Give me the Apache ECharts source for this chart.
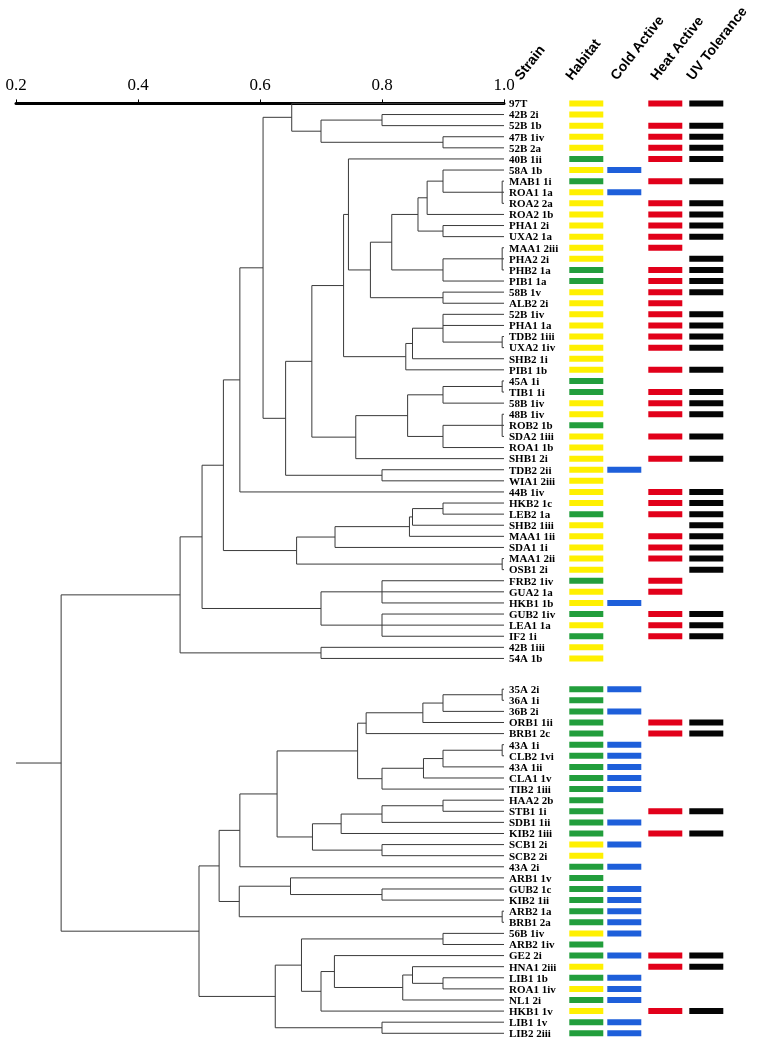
<!DOCTYPE html>
<html><head><meta charset="utf-8">
<script src="https://cdn.jsdelivr.net/npm/echarts@6/dist/echarts.min.js"></script>
<style>html,body{margin:0;padding:0;background:#fff}#c{width:763px;height:1046px}</style>
</head><body><div id="c"></div>
<script>
// ---------- DATA ----------
const strains = [
 '97T','42B 2i','52B 1b','47B 1iv','52B 2a','40B 1ii','58A 1b','MAB1 1i','ROA1 1a','ROA2 2a',
 'ROA2 1b','PHA1 2i','UXA2 1a','MAA1 2iii','PHA2 2i','PHB2 1a','PIB1 1a','58B 1v','ALB2 2i','52B 1iv',
 'PHA1 1a','TDB2 1iii','UXA2 1iv','SHB2 1i','PIB1 1b','45A 1i','TIB1 1i','58B 1iv','48B 1iv','ROB2 1b',
 'SDA2 1iii','ROA1 1b','SHB1 2i','TDB2 2ii','WIA1 2iii','44B 1iv','HKB2 1c','LEB2 1a','SHB2 1iii','MAA1 1ii',
 'SDA1 1i','MAA1 2ii','OSB1 2i','FRB2 1iv','GUA2 1a','HKB1 1b','GUB2 1iv','LEA1 1a','IF2 1i','42B 1iii',
 '54A 1b',
 '35A 2i','36A 1i','36B 2i','ORB1 1ii','BRB1 2c','43A 1i','CLB2 1vi','43A 1ii','CLA1 1v',
 'TIB2 1iii','HAA2 2b','STB1 1i','SDB1 1ii','KIB2 1iii','SCB1 2i','SCB2 2i','43A 2i','ARB1 1v','GUB2 1c',
 'KIB2 1ii','ARB2 1a','BRB1 2a','56B 1iv','ARB2 1iv','GE2 2i','HNA1 2iii','LIB1 1b','ROA1 1iv','NL1 2i',
 'HKB1 1v','LIB1 1v','LIB2 2iii'
];
const habitat = [
 'Y','Y','Y','Y','Y','G','Y','G','Y','Y',
 'Y','Y','Y','Y','Y','G','G','Y','Y','Y',
 'Y','Y','Y','Y','Y','G','G','Y','Y','G',
 'Y','Y','Y','Y','Y','Y','Y','G','Y','Y',
 'Y','Y','Y','G','Y','Y','G','Y','G','Y',
 'Y','G','G','G','G','G','G','G','G','G',
 'G','G','G','G','G','Y','Y','G','G','G',
 'G','G','G','Y','G','G','Y','G','Y','G',
 'Y','G','G'
];
const coldActive = [
 0,0,0,0,0,0,1,0,1,0,
 0,0,0,0,0,0,0,0,0,0,
 0,0,0,0,0,0,0,0,0,0,
 0,0,0,1,0,0,0,0,0,0,
 0,0,0,0,0,1,0,0,0,0,
 0,1,0,1,0,0,1,1,1,1,
 1,0,0,1,0,1,0,1,0,1,
 1,1,1,1,0,1,0,1,1,1,
 0,1,1
];
const heatActive = [
 1,0,1,1,1,1,0,1,0,1,
 1,1,1,1,0,1,1,1,1,1,
 1,1,1,0,1,0,1,1,1,0,
 1,0,1,0,0,1,1,1,0,1,
 1,1,0,1,1,0,1,1,1,0,
 0,0,0,0,1,1,0,0,0,0,
 0,0,1,0,1,0,0,0,0,0,
 0,0,0,0,0,1,1,0,0,0,
 1,0,0
];
const uvTolerance = [
 1,0,1,1,1,1,0,1,0,1,
 1,1,1,0,1,1,1,1,0,1,
 1,1,1,0,1,0,1,1,1,0,
 1,0,1,0,0,1,1,1,1,1,
 1,1,1,0,0,0,1,1,1,0,
 0,0,0,0,1,1,0,0,0,0,
 0,0,1,0,1,0,0,0,0,0,
 0,0,0,0,0,1,1,0,0,0,
 1,0,0
];
const headers = ['Strain','Habitat','Cold Active','Heat Active','UV Tolerance'];
const axisTicks = [0.2, 0.4, 0.6, 0.8, 1.0];

// cluster tree: node(similarity, ...children); numbers are strain rows (1-based)
const node = (h, ...k) => ({h, k});
const tA  = node(0.652, 1, node(0.70, node(0.80, 2, 3), node(0.90, 4, 5)));
const tS  = node(0.745, 6, node(0.781,
              node(0.816,
                node(0.859, node(0.874, node(0.90, 7, node(0.997, 8, 9, 10)), 11), node(0.90, 12, 13)),
                node(0.90, node(0.997, 14, 15, 16), 17)),
              node(0.90, 18, 19)));
const tY  = node(0.839, node(0.850, node(0.90, 20, 21, node(0.997, 22, 23)), 24), 25);
const tAA = node(0.757, node(0.842, node(0.90, node(0.997, 26, 27), 28), node(0.90, node(0.997, 29, 30, 31), 32)), 33);
const tF  = node(0.642, node(0.685, node(0.737, tS, tY), tAA), node(0.80, 34, 35));
const tEE = node(0.567, node(0.605, tA, tF), 36);
const tGG = node(0.660, node(0.723, node(0.845, node(0.85, node(0.90, 37, 38), 39), 40), 41), node(0.997, 42, 43));
const tII = node(0.70, node(0.80, 44, 45, 46), node(0.80, 47, 48, 49));
const tUpper = node(0.469, node(0.505, node(0.540, tEE, tGG), tII), node(0.70, 50, 51));
const tL7  = node(0.760,
              node(0.774, node(0.867, node(0.90, node(0.997, 52, 53), 54), 55), 56),
              node(0.80, node(0.868, node(0.90, node(0.997, 57, 58), 59), 60), 61));
const tL10 = node(0.686, node(0.733, node(0.80, node(0.90, 62, 63), 64), 65), node(0.80, 66, 67));
const tL13 = node(0.533, node(0.567, node(0.628, tL7, tL10), 68),
              node(0.566, node(0.650, 69, node(0.80, 70, 71)), node(0.997, 72, 73)));
const tL17 = node(0.625,
              node(0.668, node(0.90, 74, 75),
                node(0.70, node(0.722, 76, node(0.834, node(0.85, 77, node(0.90, 78, 79)), 80)), 81)),
              node(0.80, 82, 83));
const tree = node(0.274, tUpper, node(0.50, tL13, tL17));

// ---------- LAYOUT ----------
const upperCount = 51, groupGap = 1.77;
const rowPos = strains.map((s, i) => i < upperCount ? i : i + groupGap);
const COL = {label: 4, habitat: 64.3, cold: 102.3, heat: 143.3, uv: 184.3, barW: 34, barH: 6};
const headerX = [18.5, 69.5, 114.5, 154.5, 190.5];
const headerY = -1.85;
const COLORS = {Y: '#FFF000', G: '#229E3C', cold: '#1E5FDA', heat: '#E2001A', uv: '#050505', line: '#3a3a3a'};

// flatten tree
const nodes = [];
function walk(n) {
  if (typeof n === 'number') return {h: 1.0, y: rowPos[n - 1]};
  const kids = n.k.map(walk);
  const y = (kids[0].y + kids[kids.length - 1].y) / 2;
  nodes.push({h: n.h, y, kids, root: n === tree});
  return {h: n.h, y};
}
walk(tree);

const chart = echarts.init(document.getElementById('c'));
const gridTop = 99, unitPx = 11.1, yMin = -0.4, yMax = 84.5;
const gridBottom = 1046 - gridTop - unitPx * (yMax - yMin);
const lineStyle = {stroke: COLORS.line, lineWidth: 1};

chart.setOption({
  animation: false,
  backgroundColor: '#fff',
  grid: [
    {left: 16, right: 259, top: gridTop, bottom: gridBottom},
    {left: 505, right: 0, top: gridTop, bottom: gridBottom}
  ],
  xAxis: [
    {gridIndex: 0, type: 'value', position: 'top', min: 0.2, max: 1.0, interval: 0.2,
     axisLine: {show: true, lineStyle: {color: '#000', width: 3}},
     axisTick: {show: true, length: 4, lineStyle: {color: '#000', width: 1}},
     axisLabel: {formatter: v => axisTicks.includes(+v.toFixed(1)) ? v.toFixed(1) : '', fontFamily: 'Liberation Serif', fontSize: 17, color: '#000', margin: 5},
     splitLine: {show: false}},
    {gridIndex: 1, type: 'value', min: 0, max: 258, show: false}
  ],
  yAxis: [
    {gridIndex: 0, type: 'value', min: yMin, max: yMax, inverse: true, show: false},
    {gridIndex: 1, type: 'value', min: yMin, max: yMax, inverse: true, show: false}
  ],
  series: [
    {
      type: 'custom', xAxisIndex: 0, yAxisIndex: 0, clip: false,
      data: nodes.map(n => [n.h, n.y]),
      encode: {x: 0, y: 1},
      renderItem: (params, api) => {
        const n = nodes[params.dataIndex];
        const ch = [];
        const a = api.coord([n.h, n.kids[0].y]);
        const b = api.coord([n.h, n.kids[n.kids.length - 1].y]);
        ch.push({type: 'line', shape: {x1: a[0], y1: a[1], x2: b[0], y2: b[1]}, style: lineStyle});
        n.kids.forEach(k => {
          const p = api.coord([n.h, k.y]), q = api.coord([k.h, k.y]);
          ch.push({type: 'line', shape: {x1: p[0], y1: p[1], x2: q[0], y2: q[1]}, style: lineStyle});
        });
        if (n.root) {
          const p = api.coord([0.2, n.y]), q = api.coord([n.h, n.y]);
          ch.push({type: 'line', shape: {x1: p[0], y1: p[1], x2: q[0], y2: q[1]}, style: lineStyle});
        }
        return {type: 'group', children: ch};
      }
    },
    {
      type: 'custom', xAxisIndex: 1, yAxisIndex: 1, clip: false,
      data: strains.map((s, i) => [0, rowPos[i]]),
      encode: {x: 0, y: 1},
      renderItem: (params, api) => {
        const i = params.dataIndex;
        const y = rowPos[i];
        const ch = [];
        const lp = api.coord([COL.label, y]);
        ch.push({type: 'text', x: lp[0], y: lp[1] + 1,
          style: {text: strains[i], fill: '#000', font: 'bold 11px "Liberation Serif"', textAlign: 'left', textVerticalAlign: 'middle'}});
        const bar = (col, color) => {
          const p = api.coord([col, y]);
          const q = api.coord([col + COL.barW, y]);
          ch.push({type: 'rect', shape: {x: p[0], y: p[1] - COL.barH / 2, width: q[0] - p[0], height: COL.barH}, style: {fill: color}});
        };
        bar(COL.habitat, COLORS[habitat[i]]);
        if (coldActive[i]) bar(COL.cold, COLORS.cold);
        if (heatActive[i]) bar(COL.heat, COLORS.heat);
        if (uvTolerance[i]) bar(COL.uv, COLORS.uv);
        return {type: 'group', children: ch};
      }
    },
    {
      type: 'custom', xAxisIndex: 1, yAxisIndex: 1, clip: false,
      data: headers.map((h, i) => [headerX[i], headerY]),
      encode: {x: 0, y: 1},
      renderItem: (params, api) => {
        const p = api.coord([api.value(0), api.value(1)]);
        return {type: 'text', x: p[0], y: p[1], rotation: 52 * Math.PI / 180,
          style: {text: headers[params.dataIndex], fill: '#000', font: 'bold 14px "Liberation Sans"', textAlign: 'left', textVerticalAlign: 'bottom'}};
      }
    }
  ]
});
</script>
</body></html>
